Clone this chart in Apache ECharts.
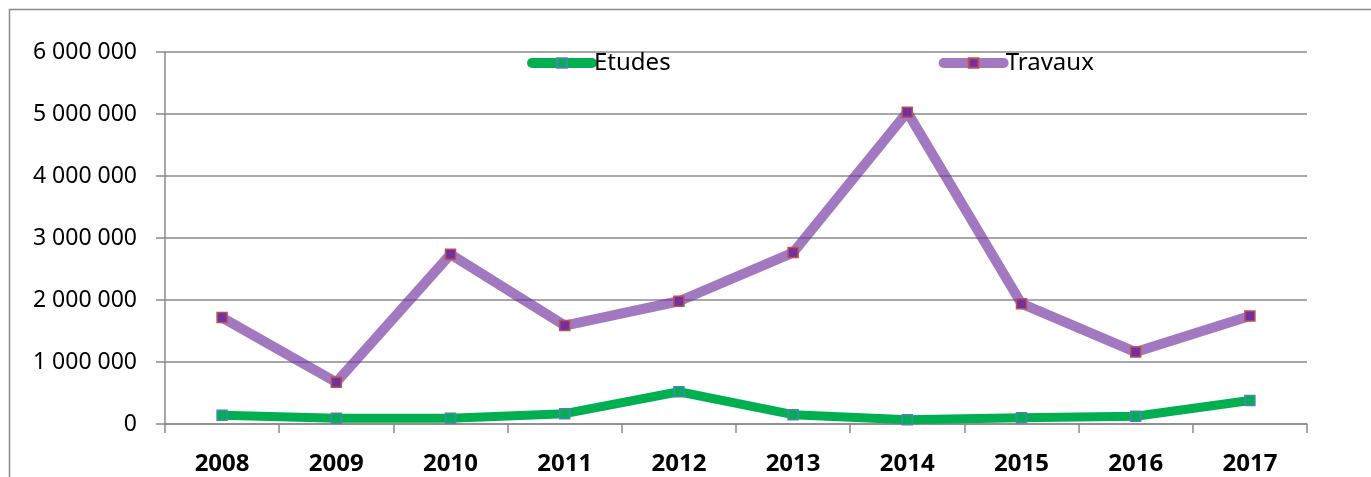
<!DOCTYPE html>
<html>
<head>
<meta charset="utf-8">
<script src="https://cdn.jsdelivr.net/npm/echarts@6/dist/echarts.min.js"></script>
<style>
  html, body { margin: 0; padding: 0; background: #fff; }
  #chart { width: 1371px; height: 477px; }
</style>
</head>
<body>
<div id="chart"></div>
<script>
  // années
  const years = ['2008', '2009', '2010', '2011', '2012', '2013', '2014', '2015', '2016', '2017']
  // valeurs
  const etudes = [140000, 92000, 92000, 167000, 520000, 150000, 70000, 100000, 124000, 380000]
  const travaux = [1716000, 673000, 2737000, 1587000, 1980000, 2765000, 5030000, 1940000, 1160000, 1742000]
  const yTicks = [0, 1000000, 2000000, 3000000, 4000000, 5000000, 6000000]

  const gray = '#8a8a8a'
  const fmt = v => String(v).replace(/\B(?=(\d{3})+(?!\d))/g, ' ')

  const chart = echarts.init(document.getElementById('chart'))
  chart.setOption({
    backgroundColor: '#fff',
    animation: false,
    textStyle: { fontFamily: 'Noto Sans' },
    graphic: [{
      type: 'rect',
      shape: { x: 9.5, y: 9.5, width: 1400, height: 500 },
      style: { fill: 'none', stroke: gray, lineWidth: 1.5 },
      silent: true
    }],
    grid: { left: 165, right: 64, top: 52, bottom: 53 },
    legend: {
      left: 522,
      top: 46,
      itemGap: 268,
      itemWidth: 60,
      itemHeight: 12,
      textStyle: { color: '#000', fontSize: 24, fontFamily: 'Noto Sans', padding: [0, 0, 0, -3] },
      lineStyle: { width: 10, cap: 'round' },
      data: ['Etudes', 'Travaux']
    },
    xAxis: {
      type: 'category',
      data: years,
      boundaryGap: true,
      axisLine: { lineStyle: { color: gray, width: 1.5 } },
      axisTick: { show: true, length: 9, lineStyle: { color: gray, width: 1.5 } },
      axisLabel: { color: '#000', fontSize: 24, fontWeight: 'bold', margin: 28, fontFamily: 'Noto Sans' }
    },
    yAxis: {
      type: 'value',
      min: yTicks[0],
      max: yTicks[yTicks.length - 1],
      interval: 1000000,
      axisLine: { show: true, lineStyle: { color: gray, width: 1.5 } },
      axisTick: { show: true, length: 9, lineStyle: { color: gray, width: 1.5 } },
      splitLine: { lineStyle: { color: gray, width: 1.5 } },
      axisLabel: { color: '#000', fontSize: 23, margin: 28, formatter: fmt, fontFamily: 'Noto Sans' }
    },
    series: [{
      name: 'Etudes',
      type: 'line',
      data: etudes,
      symbol: 'rect',
      symbolSize: 10,
      z: 3,
      lineStyle: { color: '#00b050', width: 9 },
      itemStyle: { color: '#00b050', borderColor: '#4f81bd', borderWidth: 1.5 }
    }, {
      name: 'Travaux',
      type: 'line',
      data: travaux,
      symbol: 'rect',
      symbolSize: 10,
      z: 2,
      lineStyle: { color: '#7030a0', width: 10, opacity: 0.65 },
      itemStyle: { color: '#7030a0', borderColor: '#c0504d', borderWidth: 1.5 }
    }]
  })
</script>
</body>
</html>
